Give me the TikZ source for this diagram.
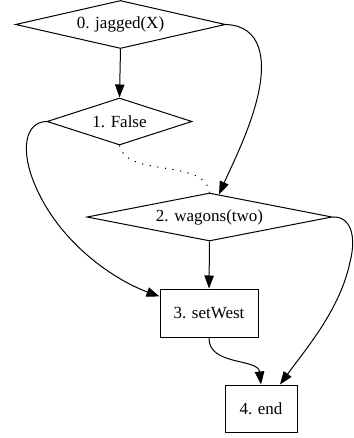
\documentclass[tikz,border=0pt]{standalone}
\usepackage{fontspec}
\setmainfont{Liberation Serif}
\usetikzlibrary{shapes.geometric,arrows.meta}
\tikzset{
  dnode/.style={draw,shape=diamond,inner sep=0pt,line width=1pt,font=\fontsize{17}{19}\selectfont},
  bnode/.style={draw,rectangle,inner sep=0pt,line width=1pt,font=\fontsize{17}{19}\selectfont},
  edge/.style={line width=1pt,-{Triangle[length=13pt,width=9.5pt]}},
  dotedge/.style={line width=1pt,dash pattern=on 1.2pt off 6.5pt}
}
\begin{document}
\begin{tikzpicture}[x=1pt,y=-1pt]
\useasboundingbox (0,0) rectangle (353,438);
\node[dnode,minimum width=210pt,minimum height=48pt,aspect=4.4] (n0) at (120.5,24.5) {0. jagged(X)};
\node[dnode,minimum width=145pt,minimum height=47pt,aspect=3.1] (n1) at (119.5,121.5) {1. False};
\node[dnode,minimum width=245pt,minimum height=48pt,aspect=5.1] (n2) at (209.5,217) {2. wagons(two)};
\node[bnode,minimum width=98pt,minimum height=48pt] (n3) at (209,313) {3. setWest};
\node[bnode,minimum width=72pt,minimum height=47pt] (n4) at (261,408.5) {4. end};
\draw[edge] (n0.south) -- (n1.north);
\draw[edge] (n0.east) .. controls (262,26) and (266,60) .. (258,95) .. controls (250,130) and (232,165) .. ([xshift=9.5pt,yshift=-1.9pt]n2.north);
\draw[dotedge] (n1.south) .. controls (126,178) and (205,158) .. (n2.north);
\draw[edge] (n1.west) .. controls (25,122) and (20,150) .. (35,185) .. controls (58,240) and (110,278) .. ([yshift=-8pt]n3.north west);
\draw[edge] (n2.south) -- (n3.north);
\draw[edge] (n2.east) .. controls (350,216) and (357,235) .. (350,262) .. controls (340,310) and (305,350) .. ([xshift=19pt]n4.north);
\draw[edge] (n3.south) .. controls (208,366) and (258,358) .. (n4.north);
\end{tikzpicture}
\end{document}
